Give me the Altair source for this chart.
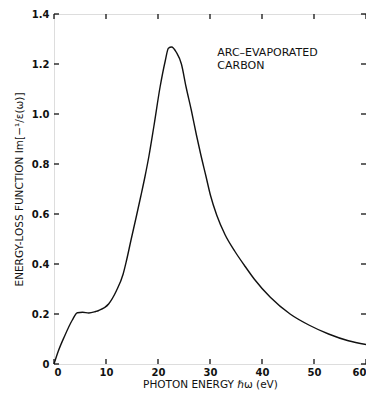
import altair as alt
import pandas as pd

energy = [0, 0.8, 2, 3.5, 4.5, 5.5, 6.7, 8, 8.6, 10.5, 12.0, 13.3, 13.9, 14.8, 15.8, 16.7,
          17.5, 18.26, 19.2, 20.4, 21.4, 22.0, 22.6, 23.55, 24.5, 25.4, 26.4, 27.4, 28.2,
          29.2, 30.1, 31.3, 32.9, 34.8, 36.6, 38.5, 41.6, 45.4, 49.1, 52.8, 56.6, 60]
loss = [0, 0.05, 0.11, 0.175, 0.205, 0.207, 0.204, 0.21, 0.214, 0.24, 0.293, 0.36, 0.41,
        0.495, 0.587, 0.672, 0.75, 0.832, 0.95, 1.108, 1.213, 1.263, 1.268, 1.246, 1.2,
        1.108, 1.016, 0.915, 0.84, 0.753, 0.674, 0.595, 0.517, 0.45, 0.395, 0.34, 0.267,
        0.2, 0.155, 0.12, 0.093, 0.078]

x_ticks = [0, 10, 20, 30, 40, 50, 60]
y_ticks = [0, 0.2, 0.4, 0.6, 0.8, 1.0, 1.2, 1.4]

label_text = ["ARC\u2013EVAPORATED", "CARBON"]
label_x = [31.4]
label_y = [1.245]

W, H = 312, 350
TL = 5
FONT = "DejaVu Sans"
INK = "#111111"

df = pd.DataFrame({"E": energy, "L": loss})
xt = pd.DataFrame({"v": x_ticks})
yt = pd.DataFrame({"v": y_ticks})

xs = alt.Scale(domain=[0, 60], nice=False, zero=False)
ys = alt.Scale(domain=[0, 1.4], nice=False)

main = alt.Chart(df).mark_line(color=INK, strokeWidth=1.4, interpolate="monotone").encode(
    x=alt.X("E:Q", scale=xs,
            axis=alt.Axis(orient="bottom", values=x_ticks, ticks=False, domain=False,
                          grid=False, labelPadding=3, labelFontSize=10, labelFont=FONT,
                          labelColor=INK, labelFontWeight="bold",
                          title="PHOTON ENERGY \u210f\u03c9 (eV)", titleFont=FONT,
                          titleFontSize=10.5, titleFontWeight="normal", titleColor=INK,
                          titlePadding=2)),
    y=alt.Y("L:Q", scale=ys,
            axis=alt.Axis(orient="left", values=y_ticks, ticks=False, domain=False,
                          grid=False, labelPadding=5, labelFontSize=10, labelFont=FONT,
                          labelColor=INK, labelFontWeight="bold",
                          labelExpr="datum.value == 0 ? '0' : format(datum.value, '.1f')",
                          title="ENERGY-LOSS FUNCTION  Im[\u2212\u00b9/\u03b5(\u03c9)]",
                          titleFont=FONT, titleFontSize=10.5, titleFontWeight="normal",
                          titleColor=INK, titlePadding=7)),
)

rule = dict(color=INK, strokeWidth=1.3)
tick_bottom = alt.Chart(xt).mark_rule(**rule).encode(
    x=alt.X("v:Q", scale=xs), y=alt.value(H), y2=alt.value(H - TL))
tick_top = alt.Chart(xt).mark_rule(**rule).encode(
    x=alt.X("v:Q", scale=xs), y=alt.value(0), y2=alt.value(TL))
tick_left = alt.Chart(yt).mark_rule(**rule).encode(
    y=alt.Y("v:Q", scale=ys), x=alt.value(0), x2=alt.value(TL))
tick_right = alt.Chart(yt).mark_rule(**rule).encode(
    y=alt.Y("v:Q", scale=ys), x=alt.value(W - TL), x2=alt.value(W))

ann = alt.Chart(pd.DataFrame({"x": label_x, "y": label_y, "t": [label_text]})).mark_text(
    align="left", baseline="middle", font=FONT, fontSize=11,
    lineHeight=13, color=INK,
).encode(x=alt.X("x:Q", scale=xs), y=alt.Y("y:Q", scale=ys), text="t")

chart = alt.layer(main, tick_bottom, tick_top, tick_left, tick_right, ann).properties(
    width=W, height=H,
    autosize=alt.AutoSizeParams(type="none"),
    padding={"left": 46, "top": 6, "right": 0, "bottom": 28},
).configure_view(stroke=INK, strokeWidth=1.6).configure(background="white")

chart.save("out.html", embed_options={"renderer": "svg", "actions": False})
